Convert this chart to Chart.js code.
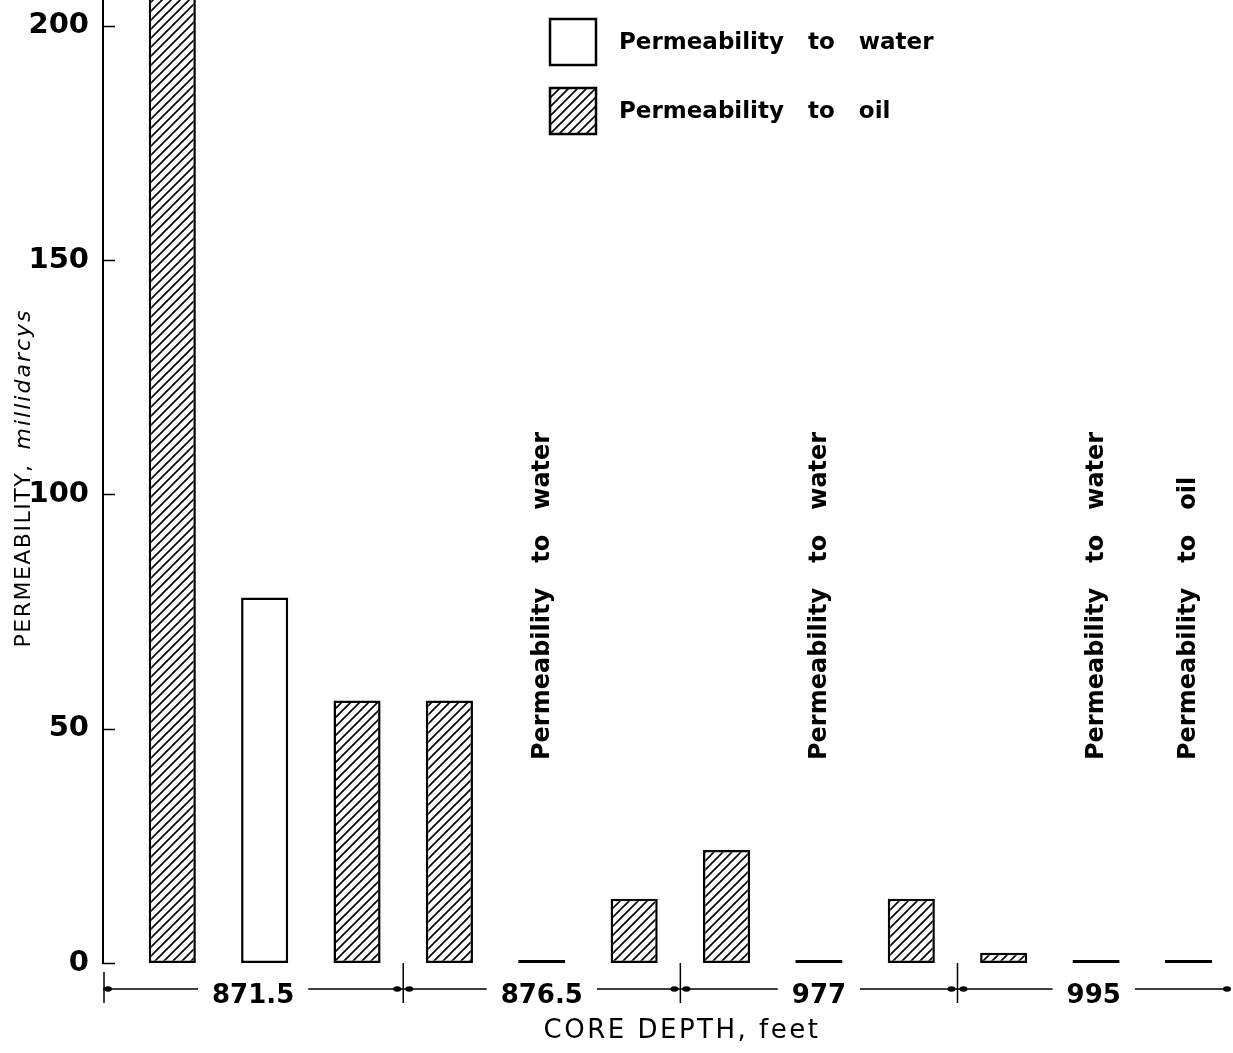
<!DOCTYPE html>
<html><head><meta charset="utf-8">
<script src="https://cdn.jsdelivr.net/npm/chart.js@4.4.1/dist/chart.umd.min.js"></script>
<style>html,body{margin:0;padding:0;background:#fff;} canvas{display:block;}</style>
</head><body>
<canvas id="c" width="1233" height="1053"></canvas>
<script>
// ---------- data ----------
const depthGroups = ['871.5', '876.5', '977', '995'];
const samplesPerGroup = 3;
const sampleIndex = [0, 1, 2, 3, 4, 5, 6, 7, 8, 9, 10, 11];
const waterPermeability = [null, 78, null, null, 0, null, null, 0, null, null, 0, null];
const oilPermeability = [225, null, 56, 56, null, 13.7, 24.1, null, 13.7, 2.2, null, 0];
const yTicks = [0, 50, 100, 150, 200];
const seriesNames = ['Permeability   to   water', 'Permeability   to   oil'];
const yTitleParts = ['PERMEABILITY,', 'millidarcys'];
const xTitle = 'CORE DEPTH, feet';

const FONT = 'DejaVu Sans';

// ---------- hatch pattern ----------
function makeHatch() {
  const s = 9;
  const c = document.createElement('canvas');
  c.width = s; c.height = s;
  const g = c.getContext('2d');
  g.fillStyle = '#fff'; g.fillRect(0, 0, s, s);
  g.strokeStyle = '#000'; g.lineWidth = 1.6; g.lineCap = 'square';
  g.beginPath();
  g.moveTo(-2, s + 2); g.lineTo(s + 2, -2);
  g.moveTo(-2, 2); g.lineTo(2, -2);
  g.moveTo(s - 2, s + 2); g.lineTo(s + 2, s - 2);
  g.stroke();
  return c;
}
const canvas = document.getElementById('c');
const ctx = canvas.getContext('2d');
const hatch = ctx.createPattern(makeHatch(), 'repeat');

const toPoints = arr => sampleIndex.map((x, i) => ({ x, y: arr[i] })).filter(p => p.y !== null);

const groupCenters = [];
function groupEdges(scale) {
  const e = [scale.min];
  for (let g = 1; g < depthGroups.length; g++) e.push(g * samplesPerGroup - 0.5);
  e.push(scale.max);
  return e;
}

// ---------- decorations plugin ----------
const decor = {
  id: 'decor',
  afterDraw(chart) {
    const c = chart.ctx;
    const xs = chart.scales.x, ys = chart.scales.y;
    const area = chart.chartArea;
    const left = area.left, bottom = area.bottom;
    c.save();
    c.strokeStyle = '#000'; c.fillStyle = '#000';

    // inward y tick marks
    c.lineWidth = 1.5;
    ys.ticks.forEach(t => {
      const py = Math.round(ys.getPixelForValue(t.value)) + 0.5;
      c.beginPath(); c.moveTo(left, py); c.lineTo(left + 12, py); c.stroke();
    });

    // dimension line for depth groups
    const edges = groupEdges(xs).map(v => xs.getPixelForValue(v));
    const yl = bottom + 26;
    c.font = 'bold 26px "' + FONT + '"';
    c.lineWidth = 1.6;
    depthGroups.forEach((lab, g) => {
      const cx = xs.getPixelForValue(groupCenters[g]);
      const w = c.measureText(lab).width;
      c.beginPath();
      c.moveTo(edges[g], yl); c.lineTo(cx - w / 2 - 14, yl);
      c.moveTo(cx + w / 2 + 14, yl); c.lineTo(edges[g + 1], yl);
      c.stroke();
    });
    c.lineWidth = 1.5;
    edges.forEach((px, i) => {
      c.beginPath();
      if (i === 0) { c.moveTo(px + 1, bottom + 9); c.lineTo(px + 1, bottom + 40); }
      else if (i < edges.length - 1) { c.moveTo(px, bottom); c.lineTo(px, bottom + 40); }
      c.stroke();
      const dots = i === 0 ? [px + 5] : (i === edges.length - 1 ? [px - 3] : [px - 6, px + 6]);
      dots.forEach(dx => { c.beginPath(); c.ellipse(dx, yl, 4, 2.8, 0, 0, Math.PI * 2); c.fill(); });
    });

    // vertical annotations above zero-valued bars
    c.font = 'bold 24px "' + FONT + '"';
    c.textAlign = 'left'; c.textBaseline = 'alphabetic';
    chart.data.datasets.forEach((ds, di) => {
      const meta = chart.getDatasetMeta(di);
      ds.data.forEach((p, i) => {
        if (p.y !== 0) return;
        const bx = meta.data[i].x;
        c.save();
        c.translate(bx + 7, 760);
        c.rotate(-Math.PI / 2);
        c.fillText(ds.label, 0, 0);
        c.restore();
      });
    });

    // legend
    c.font = 'bold 23px "' + FONT + '"';
    c.textBaseline = 'middle';
    chart.data.datasets.forEach((ds, di) => {
      const bx = 550, by = 19 + di * 69, sz = 46;
      c.fillStyle = ds.backgroundColor;
      c.fillRect(bx, by, sz, sz);
      c.lineWidth = 2.5; c.strokeStyle = '#000';
      c.strokeRect(bx, by, sz, sz);
      c.fillStyle = '#000';
      c.fillText(ds.label, 619, by + sz / 2 + 1);
    });

    // y title (rotated, mixed styles)
    c.save();
    c.translate(30, 0);
    c.rotate(-Math.PI / 2);
    c.textBaseline = 'alphabetic';
    c.font = '22px "' + FONT + '"';
    c.letterSpacing = '1.5px';
    const w1 = c.measureText(yTitleParts[0]).width;
    c.font = 'oblique 22px "' + FONT + '"';
    c.letterSpacing = '2px';
    const w2 = c.measureText(yTitleParts[1]).width;
    const gap = 14;
    const total = w1 + gap + w2;
    const start = -(478 + total / 2);
    c.font = '22px "' + FONT + '"'; c.letterSpacing = '1.5px';
    c.fillText(yTitleParts[0], start, 0);
    c.font = 'oblique 22px "' + FONT + '"'; c.letterSpacing = '2px';
    c.fillText(yTitleParts[1], start + w1 + gap, 0);
    c.restore();

    // x title
    c.font = '26px "' + FONT + '"';
    c.letterSpacing = '2.5px';
    c.textAlign = 'center'; c.textBaseline = 'middle';
    c.fillText(xTitle, 682, 1031);
    c.restore();
  }
};

new Chart(ctx, {
  type: 'bar',
  data: {
    datasets: [
      { label: seriesNames[0], data: toPoints(waterPermeability), backgroundColor: '#ffffff',
        borderColor: '#000', borderWidth: 2.5, borderSkipped: false, minBarLength: 3, stack: 's',
        categoryPercentage: 1, barPercentage: 0.51 },
      { label: seriesNames[1], data: toPoints(oilPermeability), backgroundColor: hatch,
        borderColor: '#000', borderWidth: 2.5, borderSkipped: false, minBarLength: 3, stack: 's',
        categoryPercentage: 1, barPercentage: 0.51 }
    ]
  },
  options: {
    responsive: false,
    animation: false,
    layout: { padding: { left: 0, right: 3, top: 0, bottom: 0 } },
    plugins: { legend: { display: false }, tooltip: { enabled: false } },
    scales: {
      x: {
        type: 'linear', min: -0.75, max: 11.45, stacked: true, offset: false,
        grid: { display: false, offset: false }, border: { display: false },
        afterBuildTicks: s => {
          const e = groupEdges(s);
          groupCenters.length = 0;
          for (let g = 0; g < depthGroups.length; g++) groupCenters.push((e[g] + e[g + 1]) / 2);
          s.ticks = groupCenters.map(v => ({ value: v }));
        },
        ticks: { autoSkip: false, maxRotation: 0, minRotation: 0, padding: 10, color: '#000',
          font: { family: FONT, size: 26, weight: 'bold' }, callback: (v, i) => depthGroups[i] },
        afterFit: s => { s.height = 90; s.paddingLeft = 0; s.paddingRight = 0; }
      },
      y: {
        min: 0, max: 205.5,
        grid: { display: false },
        border: { display: true, color: '#000', width: 2 },
        afterBuildTicks: s => { s.ticks = yTicks.map(v => ({ value: v })); },
        ticks: { padding: 6, color: '#000', font: { family: FONT, size: 29, weight: 'bold' } },
        afterFit: s => { s.width = 103; s.paddingTop = 0; s.paddingBottom = 0; }
      }
    }
  },
  plugins: [decor]
});
</script>
</body></html>
